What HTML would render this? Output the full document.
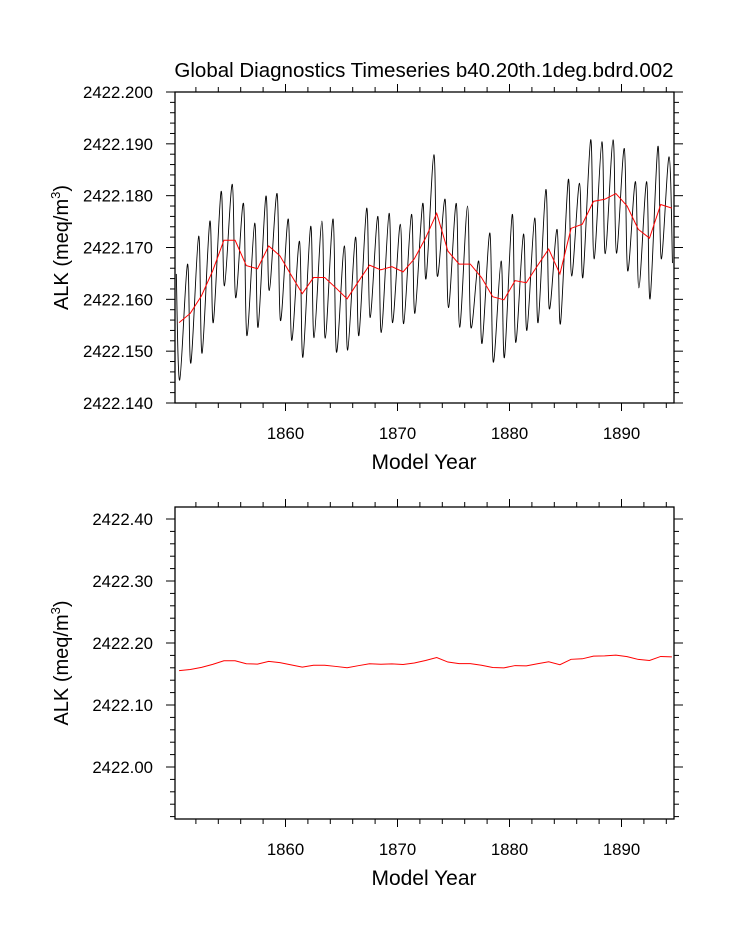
<!DOCTYPE html>
<html><head><meta charset="utf-8"><style>
html,body{margin:0;padding:0;background:#fff;}
svg{display:block;font-family:"Liberation Sans",Arial,sans-serif;}
</style></head><body>
<svg id="chart" width="733" height="945" viewBox="0 0 733 945" xmlns="http://www.w3.org/2000/svg">
<text x="424" y="77" font-size="20.5" text-anchor="middle">Global Diagnostics Timeseries b40.20th.1deg.bdrd.002</text>
<g id="top"></g>
<g id="bot"></g>
</svg>
<script>
// ---- data ----
const years = [1850,1851,1852,1853,1854,1855,1856,1857,1858,1859,1860,1861,1862,1863,1864,1865,1866,1867,1868,1869,1870,1871,1872,1873,1874,1875,1876,1877,1878,1879,1880,1881,1882,1883,1884,1885,1886,1887,1888,1889,1890,1891,1892,1893,1894];
// monthly-series seasonal maxima (offset from 2422)
const peakVals = [0.1649,0.1668,0.1722,0.1751,0.1808,0.1822,0.1785,0.1747,0.1799,0.1804,0.1755,0.1712,0.1741,0.1751,0.1755,0.1703,0.1720,0.1776,0.1760,0.1766,0.1745,0.1764,0.1785,0.1879,0.1793,0.1785,0.1780,0.1674,0.1728,0.1674,0.1764,0.1726,0.1757,0.1812,0.1735,0.1831,0.1824,0.1908,0.1904,0.1908,0.1891,0.1827,0.1827,0.1895,0.1875];
// monthly-series seasonal minima (offset from 2422)
const troughVals = [0.1444,0.1477,0.1496,0.1555,0.1626,0.1603,0.1530,0.1546,0.1617,0.1559,0.1521,0.1488,0.1526,0.1525,0.1498,0.1502,0.1530,0.1565,0.1536,0.1555,0.1553,0.1573,0.1640,0.1645,0.1584,0.1546,0.1546,0.1515,0.1479,0.1488,0.1517,0.1540,0.1555,0.1582,0.1553,0.1645,0.1642,0.1678,0.1688,0.1689,0.1655,0.1622,0.1601,0.1678,0.1670];
// annual means (offset from 2422)
const annualVals = [0.1555,0.1573,0.1607,0.1655,0.1714,0.1714,0.1665,0.1659,0.1703,0.1684,0.1647,0.1611,0.1642,0.1642,0.1622,0.1601,0.1634,0.1666,0.1657,0.1663,0.1653,0.1678,0.1718,0.1766,0.1693,0.1668,0.1668,0.1642,0.1605,0.1599,0.1636,0.1632,0.1665,0.1697,0.1649,0.1737,0.1745,0.1789,0.1793,0.1804,0.1780,0.1735,0.1718,0.1783,0.1776];
const xTicks = [1860,1870,1880,1890];
const topYTicks = [0.140,0.150,0.160,0.170,0.180,0.190,0.200];
const topYLabels = ["2422.140","2422.150","2422.160","2422.170","2422.180","2422.190","2422.200"];
const botYTicks = [0.0,0.1,0.2,0.3,0.4];
const botYLabels = ["2422.00","2422.10","2422.20","2422.30","2422.40"];

const NS="http://www.w3.org/2000/svg";
const L=175,R=674;
const xs = y => 173.5 + (y-1850)*11.2;

function mk(parent,tag,attrs){const e=document.createElementNS(NS,tag);for(const k in attrs)e.setAttribute(k,attrs[k]);parent.appendChild(e);return e;}

function panel(g, T, B, ys, yMin, yMax, yTicks, yLabels, minorStep, key){
  const fr=mk(g,'rect',{x:L,y:T,width:R-L,height:B-T,fill:'none',stroke:'#000','stroke-width':1.3});
  
  
  for(let y=1852;y<=1894;y+=2){
    const x=xs(y); const major=(y%10===0); const len=major?8:5;
    const t1=mk(g,'line',{x1:x,x2:x,y1:B,y2:B+len,stroke:'#000','stroke-width':1});
    
    
    const t2=mk(g,'line',{x1:x,x2:x,y1:T,y2:T-len,stroke:'#000','stroke-width':1});
    
    
  }
  xTicks.forEach(y=>{
    const t=mk(g,'text',{x:xs(y),y:B+36,'font-size':16.8,'text-anchor':'middle'});
    t.textContent=y;
    
    
  });
  const start=Math.ceil((yMin-1e-9)/minorStep);
  for(let i=start;i*minorStep<=yMax+1e-9;i++){
    const v=i*minorStep; const y=ys(v);
    const major=yTicks.some(t=>Math.abs(t-v)<1e-9); const len=major?9:5;
    const a=mk(g,'line',{x1:L,x2:L-len,y1:y,y2:y,stroke:'#000','stroke-width':1});
    
    
    const b=mk(g,'line',{x1:R,x2:R+len,y1:y,y2:y,stroke:'#000','stroke-width':1});
    
    
  }
  yTicks.forEach((v,i)=>{
    const t=mk(g,'text',{x:153,y:ys(v)+6,'font-size':16.8,'text-anchor':'end'});
    t.textContent=yLabels[i];
    
    
  });
  const cy=(T+B)/2;
  const yt=mk(g,'text',{x:0,y:0,'font-size':20,'text-anchor':'middle',transform:`translate(68,${cy}) rotate(-90)`});
  yt.innerHTML='ALK (meq/m<tspan font-size="13" dy="-8">3</tspan><tspan dy="8">)</tspan>';
  
  
  const xt=mk(g,'text',{x:424,y:B+66,'font-size':21,'text-anchor':'middle'});
  xt.textContent='Model Year';
  
  
  const cp=mk(g,'clipPath',{id:'clip-'+key});
  mk(cp,'rect',{x:L,y:T,width:R-L,height:B-T});
}

function catmull(pts){
  let d=`M${pts[0][0].toFixed(2)},${pts[0][1].toFixed(2)}`;
  for(let i=0;i<pts.length-1;i++){
    const p0=pts[Math.max(0,i-1)],p1=pts[i],p2=pts[i+1],p3=pts[Math.min(pts.length-1,i+2)];
    const c1=[p1[0]+(p2[0]-p0[0])/6,p1[1]+(p2[1]-p0[1])/6];
    const c2=[p2[0]-(p3[0]-p1[0])/6,p2[1]-(p3[1]-p1[1])/6];
    d+=` C${c1[0].toFixed(2)},${c1[1].toFixed(2)} ${c2[0].toFixed(2)},${c2[1].toFixed(2)} ${p2[0].toFixed(2)},${p2[1].toFixed(2)}`;
  }
  return d;
}

const gT=document.getElementById('top');
const T1=92,B1=403;
const ysT=v=>B1-(v-0.140)*(B1-T1)/0.060;
panel(gT,T1,B1,ysT,0.140,0.200,topYTicks,topYLabels,0.002,'top');
const mpts=[];
years.forEach((y,i)=>{mpts.push([xs(y+0.25),ysT(peakVals[i])]);mpts.push([xs(y+0.55),ysT(troughVals[i])]);});
const ml=mk(gT,'path',{d:catmull(mpts),fill:'none',stroke:'#000','stroke-width':0.9,'clip-path':'url(#clip-top)'});


const ap=years.map((y,i)=>`${i?'L':'M'}${xs(y+0.5).toFixed(2)},${ysT(annualVals[i]).toFixed(2)}`).join(' ');
const al=mk(gT,'path',{d:ap,fill:'none',stroke:'#ff0000','stroke-width':1,'clip-path':'url(#clip-top)'});



const gB=document.getElementById('bot');
const T2=507,B2=819;
const ysB=v=>767-v*620;
panel(gB,T2,B2,ysB,-0.0839,0.4194,botYTicks,botYLabels,0.02,'bottom');
const bp=years.map((y,i)=>`${i?'L':'M'}${xs(y+0.5).toFixed(2)},${ysB(annualVals[i]).toFixed(2)}`).join(' ');
const bl=mk(gB,'path',{d:bp,fill:'none',stroke:'#ff0000','stroke-width':1,'clip-path':'url(#clip-bottom)'});


</script>
</body></html>
